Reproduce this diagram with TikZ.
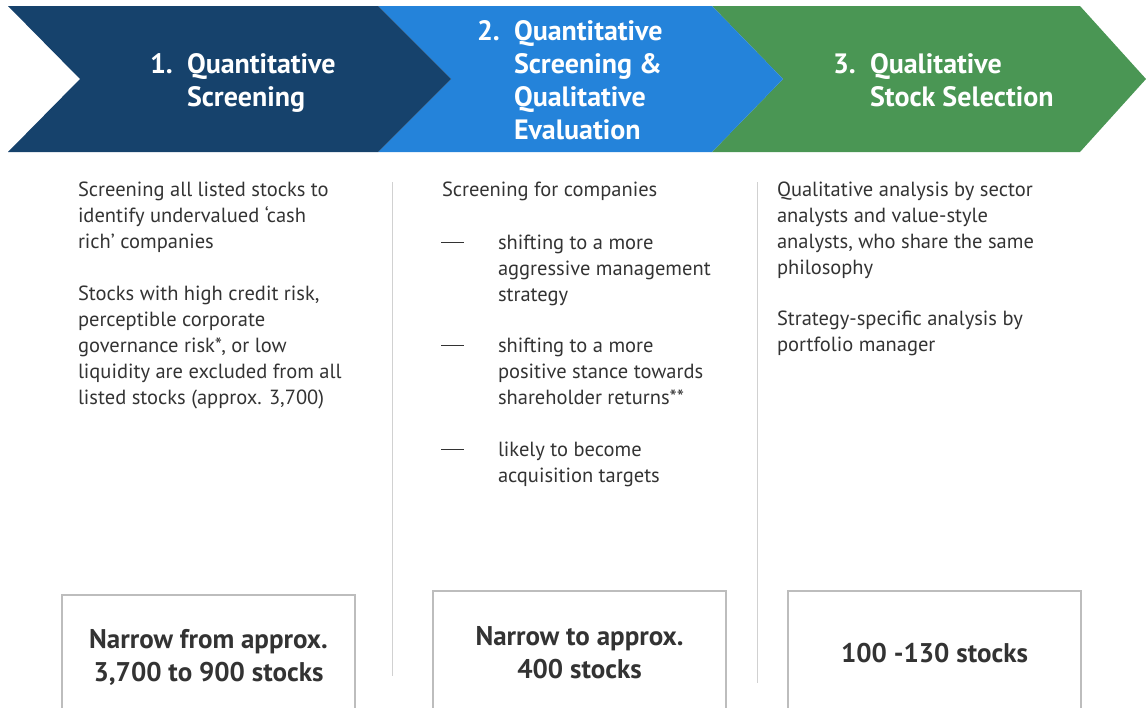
\documentclass[tikz,border=0pt]{standalone}
\usepackage{fontspec}
\setmainfont{PT Sans}
\usetikzlibrary{positioning}
\definecolor{C_NAVY}{HTML}{16426C}
\definecolor{C_BLUE}{HTML}{2483DA}
\definecolor{C_GREEN}{HTML}{4A9654}
\definecolor{C_TEXT}{HTML}{333333}
\definecolor{C_RULE}{HTML}{BDBDBD}
% top-aligned block of lines, baseline on the first line
\newcommand{\linesblock}[1]{\begin{tabular}[t]{@{}l@{}}#1\end{tabular}}
\newcommand{\longdash}{\rule[6pt]{23pt}{0.8pt}}

\begin{document}
\begin{tikzpicture}[
  x=1pt, y=-1pt,
  every node/.style={inner sep=0pt, outer sep=0pt},
  title/.style={anchor=base west, text=white,
                font=\fontsize{28}{33}\selectfont\bfseries},
  body/.style={anchor=base west, text=C_TEXT,
               font=\fontsize{20.5}{26}\selectfont},
  dashmark/.style={body},
  count/.style={draw=C_RULE, line width=1.5pt, anchor=north,
                minimum width=293pt, minimum height=124pt,
                text=C_TEXT, align=center,
                font=\fontsize{27}{33}\selectfont\bfseries},
  divider/.style={draw=C_RULE!70, line width=1pt},
]
\useasboundingbox (0,0) rectangle (1146,707);

%% chevrons, back to front
\fill[C_GREEN] (712,6) -- (1080,6) -- (1146,79) -- (1080,152) -- (712,152) -- (783,79) -- cycle;
\fill[C_BLUE]  (378,6) -- (712,6) -- (783,79) -- (712,152) -- (378,152) -- (451,79) -- cycle;
\fill[C_NAVY]  (8,6) -- (378,6) -- (451,79) -- (378,152) -- (8,152) -- (80,79) -- cycle;

%% step titles
\node[title] (n1) at (150,73) {1.};
\node[title] (t1) at (187,73) {\linesblock{Quantitative\\Screening}};
\node[title] (n2) at (477,40) {2.};
\node[title] (t2) at (514,40) {\linesblock{Quantitative\\Screening \&\\Qualitative\\Evaluation}};
\node[title] (n3) at (833,73) {3.};
\node[title] (t3) at (870,73) {\linesblock{Qualitative\\Stock Selection}};

%% column 1
\node[body] (c1a) at (78,196) {\linesblock{Screening all listed stocks to\\identify undervalued ‘cash\\rich’ companies}};
\node[body] (c1b) at (78,300) {\linesblock{Stocks with high credit risk,\\perceptible corporate\\governance risk*, or low\\liquidity are excluded from all\\listed stocks (approx. 3,700)}};

%% column 2
\node[body] (c2a) at (442,196) {Screening for companies};
\node[dashmark] (d1) at (441,249) {\longdash};
\node[body] (c2b) at (498,249) {\linesblock{shifting to a more\\aggressive management\\strategy}};
\node[dashmark] (d2) at (441,352) {\longdash};
\node[body] (c2c) at (498,352) {\linesblock{shifting to a more\\positive stance towards\\shareholder returns**}};
\node[dashmark] (d3) at (441,456) {\longdash};
\node[body] (c2d) at (498,456) {\linesblock{likely to become\\acquisition targets}};

%% column 3
\node[body] (c3a) at (777,196) {\linesblock{Qualitative analysis by sector\\analysts and value-style\\analysts, who share the same\\philosophy}};
\node[body] (c3b) at (777,325) {\linesblock{Strategy-specific analysis by\\portfolio manager}};

%% dividers
\draw[divider] (392,182) -- (392,676);
\draw[divider] (757,182) -- (757,683);

%% stock counts
\node[count] (k1) at (208.5,595) {Narrow from approx.\\3,700 to 900 stocks};
\node[count] (k2) at (579.5,591) {Narrow to approx.\\400 stocks};
\node[count] (k3) at (934.5,591) {100 -130 stocks};

\end{tikzpicture}
\end{document}
